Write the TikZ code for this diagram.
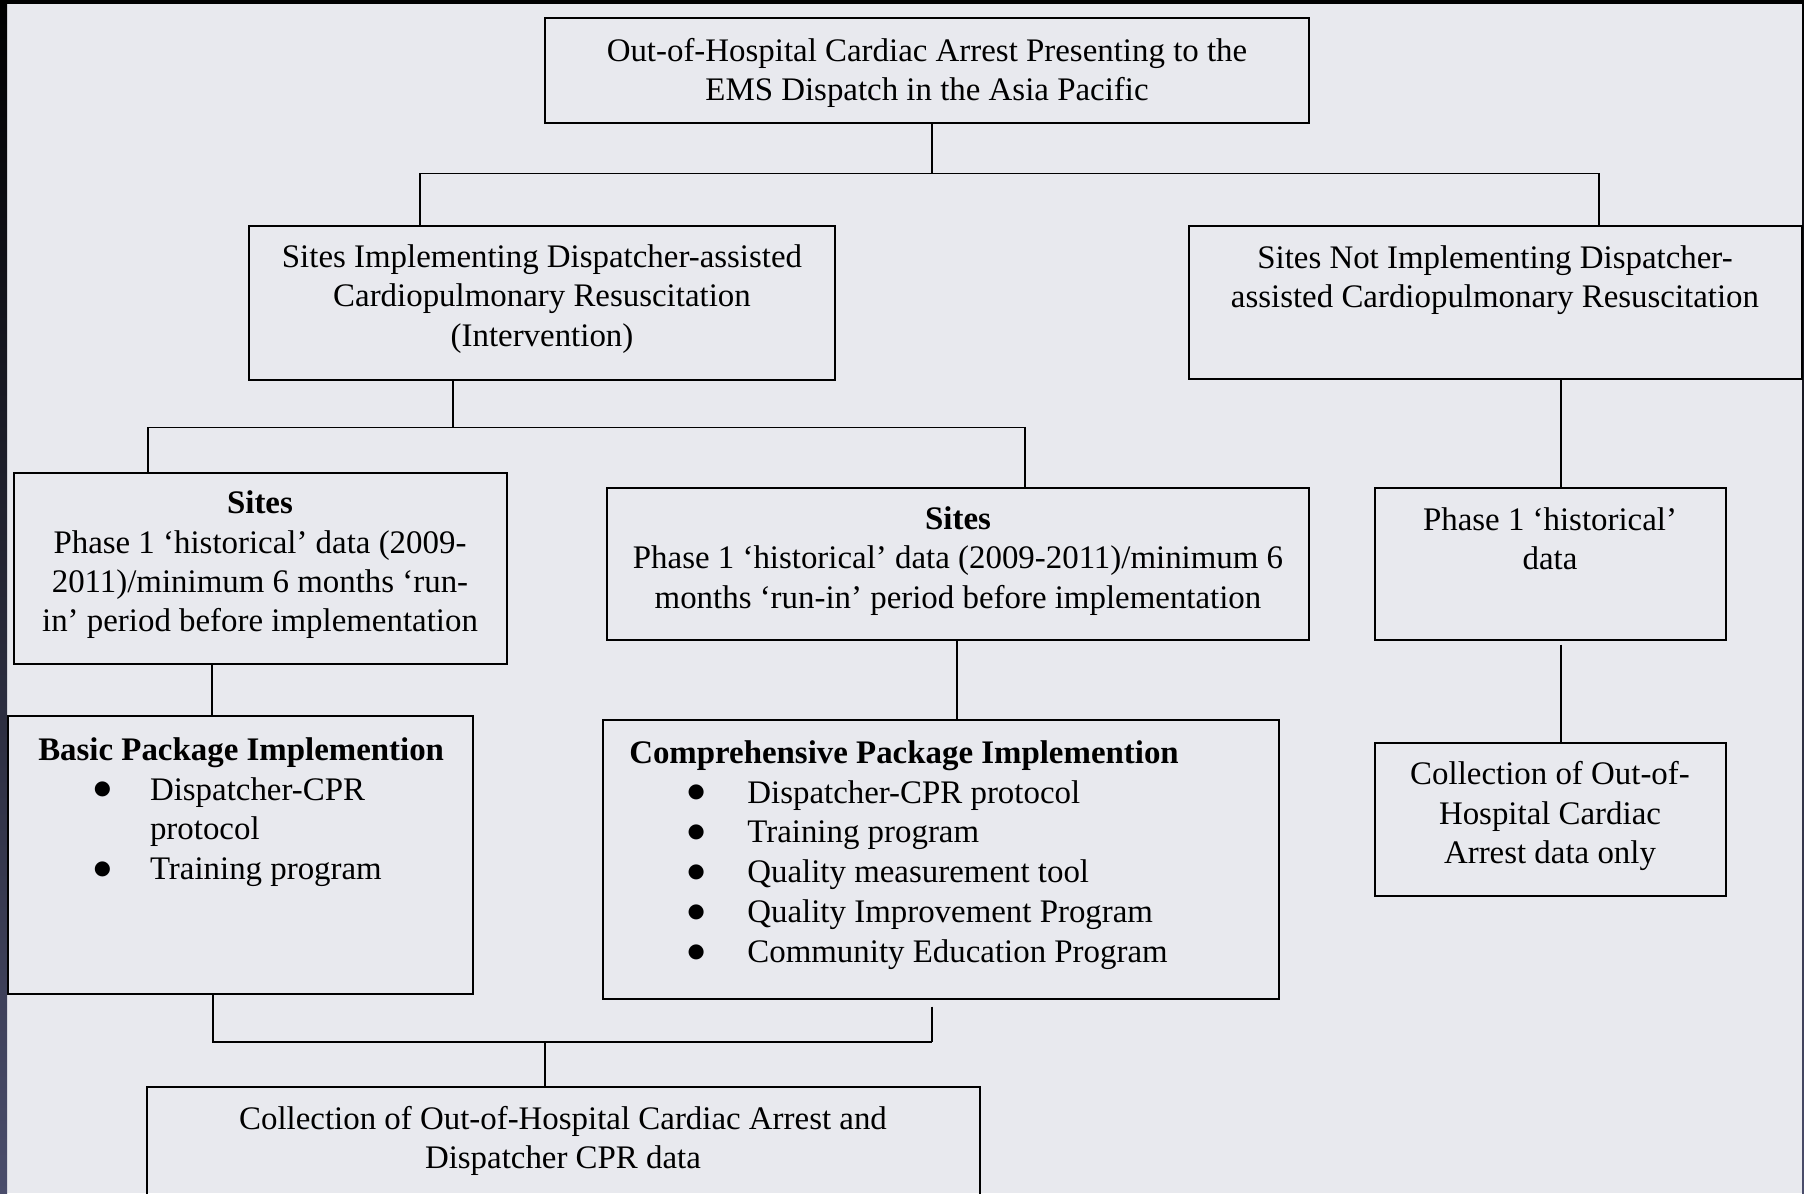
\documentclass[tikz,border=0pt]{standalone}
\usepackage{fontspec}
\setmainfont{Liberation Serif}
\newfontfamily\dotfont{DejaVu Sans}
\usetikzlibrary{positioning,calc,fit}
\definecolor{slidebg}{RGB}{232,233,238}
\definecolor{slideedge}{RGB}{74,77,107}
\newcommand{\bitem}[2]{\makebox[#2][l]{\hspace*{#1}\raisebox{3.6pt}{\dotfont\fontsize{14pt}{14pt}\selectfont ●}}}

\begin{document}
\begin{tikzpicture}[x=0.25mm,y=-0.25mm,
  box/.style={draw,line width=0.9pt,inner sep=0pt},
  txt/.style={align=center,inner sep=0pt,font=\fontsize{23.4pt}{28pt}\selectfont},
  lst/.style={align=left,inner sep=0pt,anchor=north west,font=\fontsize{23.4pt}{28.4pt}\selectfont},
  conn/.style={line width=0.9pt}]
\useasboundingbox (0,0) rectangle (1804,1193);
\clip (0,0) rectangle (1804,1193);
\fill[slidebg] (0,0) rectangle (1804,1193);
\shade[top color=black,bottom color=slideedge] (0,0) rectangle (7,1193);
\shade[top color=black,bottom color=slideedge] (1802,0) rectangle (1804,1193);
\fill[black] (0,0) rectangle (1804,4);

\node[box,fit={(545,18)(1309,123)}] (ohca) {};
\node[box,fit={(249,226)(835,380)}] (impl) {};
\node[box,fit={(1189,226)(1802,379)}] (noimpl) {};
\node[box,fit={(14,473)(507,664)}] (sites1) {};
\node[box,fit={(607,488)(1309,640)}] (sites2) {};
\node[box,fit={(1375,488)(1726,640)}] (phase) {};
\node[box,fit={(8,716)(473,994)}] (basic) {};
\node[box,fit={(603,720)(1279,999)}] (comp) {};
\node[box,fit={(1375,743)(1726,896)}] (collr) {};
\node[box,fit={(147,1087)(980,1260)}] (collab) {};

\node[txt] (ohcatxt) at (927,73) {Out-of-Hospital Cardiac Arrest Presenting to the\\EMS Dispatch in the Asia Pacific};
\node[txt] (impltxt) at (542,299) {Sites Implementing Dispatcher-assisted\\Cardiopulmonary Resuscitation\\(Intervention)};
\node[txt] (noimpltxt) at (1495,280) {Sites Not Implementing Dispatcher-\\assisted Cardiopulmonary Resuscitation};
\node[txt] (sites1txt) at (260,565) {\textbf{Sites}\\Phase 1 ‘historical’ data (2009-\\2011)/minimum 6 months ‘run-\\in’ period before implementation};
\node[txt] (sites2txt) at (958,561) {\textbf{Sites}\\Phase 1 ‘historical’ data (2009-2011)/minimum 6\\months ‘run-in’ period before implementation};
\node[txt] (phasetxt) at (1550,539) {Phase 1 ‘historical’\\data};
\node[txt] (collrtxt) at (1550,816) {Collection of Out-of-\\Hospital Cardiac\\Arrest data only};
\node[txt] (collabtxt) at (563,1141) {Collection of Out-of-Hospital Cardiac Arrest and\\Dispatcher CPR data};
\node[lst] (basictxt) at (38,737) {\textbf{Basic Package Implemention}\\
  \bitem{39.5pt}{79.5pt}Dispatcher-CPR\\
  \hspace*{79.5pt}protocol\\
  \bitem{39.5pt}{79.5pt}Training program};
\node[lst] (comptxt) at (629,740) {\textbf{Comprehensive Package Implemention}\\
  \bitem{41.5pt}{84pt}Dispatcher-CPR protocol\\
  \bitem{41.5pt}{84pt}Training program\\
  \bitem{41.5pt}{84pt}Quality measurement tool\\
  \bitem{41.5pt}{84pt}Quality Improvement Program\\
  \bitem{41.5pt}{84pt}Community Education Program};

\draw[conn] (ohca.south -| 932,0) -- ++(0,50) coordinate (split1);
\draw[conn] (impl.north -| 420,0) |- (split1) -| (noimpl.north -| 1599,0);
\draw[conn] (impl.south -| 453,0) -- ++(0,47) coordinate (split2);
\draw[conn] (sites1.north -| 148,0) |- (split2) -| (sites2.north -| 1025,0);
\draw[conn] (sites1.south -| 212,0) -- (basic.north -| 212,0);
\draw[conn] (sites2.south -| 957,0) -- (comp.north -| 957,0);
\draw[conn] (noimpl.south -| 1561,0) -- (phase.north -| 1561,0);
\draw[conn,shorten <=1mm] (phase.south -| 1561,0) -- (collr.north -| 1561,0);
\draw[conn] (basic.south -| 213,0) |- (932,1042) coordinate (merge);
\draw[conn,shorten <=1.75mm] (comp.south -| 932,0) -- (merge);
\draw[conn] (merge -| 545,0) -- (collab.north -| 545,0);
\end{tikzpicture}
\end{document}
